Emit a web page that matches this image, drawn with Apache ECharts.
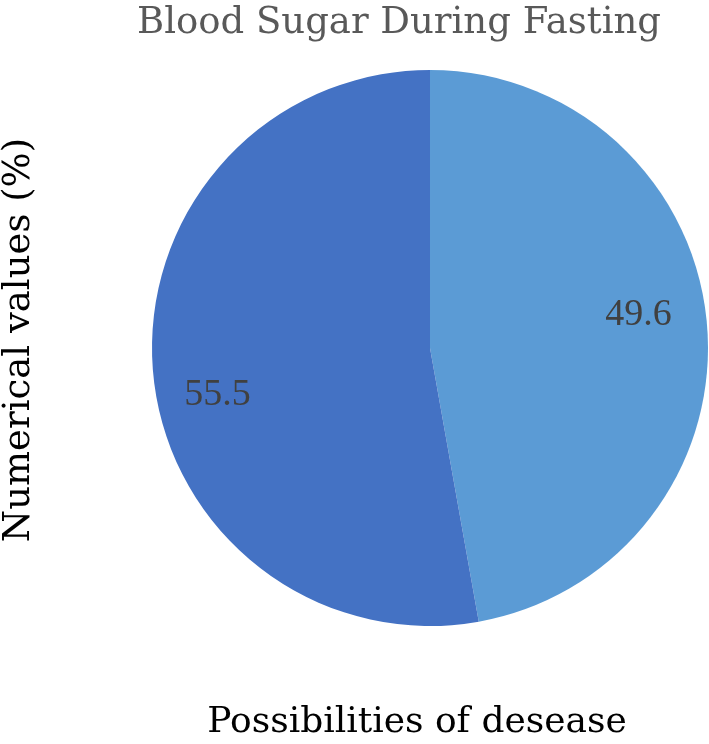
<!DOCTYPE html>
<html>
<head>
<meta charset="utf-8">
<script src="https://cdn.jsdelivr.net/npm/echarts@6/dist/echarts.min.js"></script>
<style>
  html, body { margin: 0; padding: 0; background: #fff; }
  #chart { width: 709px; height: 744px; }
</style>
</head>
<body>
<div id="chart"></div>
<script>
const categories = ["Possibility A", "Possibility B"];
const values = [49.6, 55.5];
const colors = ["#5B9BD5", "#4472C4"];
// nudge inside labels toward where the original puts them
const labelOffsets = [[67, -20], [-71, 35]];

const serif = "'DejaVu Serif', 'Liberation Serif', serif";
const numFont = "'Liberation Serif', serif";

const chart = echarts.init(document.getElementById("chart"));
chart.setOption({
  backgroundColor: "#fff",
  animation: false,
  title: [
    {
      text: "Blood Sugar During Fasting",
      left: 394,
      top: 0,
      textAlign: "center",
      textStyle: { fontFamily: serif, fontWeight: "normal", fontSize: 37, color: "#595959" },
    },
    {
      text: "Possibilities of desease",
      left: 412,
      top: 700,
      textAlign: "center",
      textStyle: { fontFamily: serif, fontWeight: "normal", fontSize: 36, color: "#000" },
    },
  ],
  graphic: [
    {
      type: "text",
      x: 19,
      y: 340,
      rotation: Math.PI / 2,
      style: {
        text: "Numerical values (%)",
        font: "37px " + serif,
        fill: "#000",
        align: "center",
        verticalAlign: "middle",
      },
    },
  ],
  series: [
    {
      type: "pie",
      center: [430, 348],
      radius: 278,
      startAngle: 90,
      clockwise: true,
      avoidLabelOverlap: false,
      labelLine: { show: false },
      itemStyle: { borderWidth: 0 },
      emphasis: { disabled: true },
      label: {
        show: true,
        position: "inside",
        formatter: (p) => p.value.toFixed(1),
        fontFamily: numFont,
        fontSize: 38,
        color: "#404040",
      },
      data: categories.map((name, i) => ({
        name,
        value: values[i],
        itemStyle: { color: colors[i] },
        label: { offset: labelOffsets[i] },
      })),
    },
  ],
});
</script>
</body>
</html>
